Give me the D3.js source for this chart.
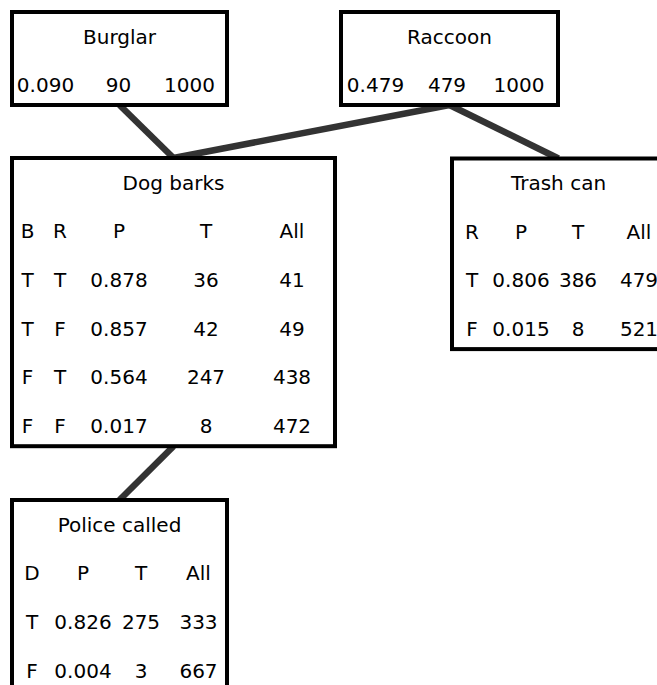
<!DOCTYPE html>
<html>
<head>
<meta charset="utf-8">
<script src="https://cdn.jsdelivr.net/npm/d3@7/dist/d3.min.js"></script>
<style>
  html, body { margin: 0; padding: 0; background: #fff; }
  svg { display: block; }
  text { font-family: "DejaVu Sans", Verdana, sans-serif; font-size: 20px; fill: #000; }
</style>
</head>
<body>
<svg id="chart" width="657" height="685"></svg>
<script>
// ---------------- DATA ----------------
const nodeNames = ["Burglar", "Raccoon", "Dog barks", "Trash can", "Police called"];
const edges = [
  ["Burglar", "Dog barks"],
  ["Raccoon", "Dog barks"],
  ["Raccoon", "Trash can"],
  ["Dog barks", "Police called"]
];

// Burglar (no parents)
const burglarP = [0.090];
const burglarT = [90];
const burglarAll = [1000];

// Raccoon (no parents)
const raccoonP = [0.479];
const raccoonT = [479];
const raccoonAll = [1000];

// Dog barks | Burglar, Raccoon
const dogHeader = ["B", "R", "P", "T", "All"];
const dogB = ["T", "T", "F", "F"];
const dogR = ["T", "F", "T", "F"];
const dogP = [0.878, 0.857, 0.564, 0.017];
const dogT = [36, 42, 247, 8];
const dogAll = [41, 49, 438, 472];

// Trash can | Raccoon
const trashHeader = ["R", "P", "T", "All"];
const trashR = ["T", "F"];
const trashP = [0.806, 0.015];
const trashT = [386, 8];
const trashAll = [479, 521];

// Police called | Dog barks
const policeHeader = ["D", "P", "T", "All"];
const policeD = ["T", "F"];
const policeP = [0.826, 0.004];
const policeT = [275, 3];
const policeAll = [333, 667];

// ---------------- TABLE BUILDING ----------------
const fmtP = d3.format(".3f");
function buildRows(header, cols) {
  const rows = [];
  if (header.length) rows.push(header);
  const n = cols[0].length;
  for (let i = 0; i < n; i++) {
    rows.push(cols.map((c, j) => (j === cols.length - 3 ? fmtP(c[i]) : String(c[i]))));
  }
  return rows;
}
const tables = {
  "Burglar": buildRows([], [burglarP, burglarT, burglarAll]),
  "Raccoon": buildRows([], [raccoonP, raccoonT, raccoonAll]),
  "Dog barks": buildRows(dogHeader, [dogB, dogR, dogP, dogT, dogAll]),
  "Trash can": buildRows(trashHeader, [trashR, trashP, trashT, trashAll]),
  "Police called": buildRows(policeHeader, [policeD, policeP, policeT, policeAll])
};

// ---------------- LAYOUT ----------------
const layout = {
  "Burglar":       { x: 10,  y: 10,  w: 219, cols: [35.5, 108.5, 179.5] },
  "Raccoon":       { x: 339, y: 10,  w: 221, cols: [36.5, 108, 180] },
  "Dog barks":     { x: 10,  y: 156, w: 327, cols: [17.5, 50, 109, 196, 282] },
  "Trash can":     { x: 450, y: 156.5, w: 217, cols: [22, 71, 128, 189] },
  "Police called": { x: 10,  y: 498, w: 219, cols: [22, 73, 131, 188.5] }
};
const titleOffset = 33.5;
const rowY = d3.scaleLinear().domain([0, 1]).range([82, 130.8]);
const bottomPad = 15;
const border = 4;

const nodes = nodeNames.map(name => {
  const L = layout[name];
  const rows = tables[name];
  const h = rowY(rows.length - 1) + bottomPad;
  return { name, rows, x: L.x, y: L.y, w: L.w, h, cols: L.cols };
});
const byName = Object.fromEntries(nodes.map(n => [n.name, n]));

const svg = d3.select("#chart");

// edges (under boxes)
svg.append("g").selectAll("line")
  .data(edges)
  .join("line")
  .attr("x1", d => byName[d[0]].x + byName[d[0]].w / 2)
  .attr("y1", d => byName[d[0]].y + byName[d[0]].h - 2)
  .attr("x2", d => byName[d[1]].x + byName[d[1]].w / 2)
  .attr("y2", d => byName[d[1]].y + 2)
  .attr("stroke", "#333")
  .attr("stroke-width", 6.5)
  .attr("stroke-linecap", "butt");

// nodes
const g = svg.append("g").selectAll("g.node")
  .data(nodes)
  .join("g")
  .attr("class", "node")
  .attr("transform", d => `translate(${d.x},${d.y})`);

g.append("rect")
  .attr("x", border / 2)
  .attr("y", border / 2)
  .attr("width", d => d.w - border)
  .attr("height", d => d.h - border)
  .attr("fill", "#fff")
  .attr("stroke", "#000")
  .attr("stroke-width", border);

g.append("text")
  .attr("x", d => d.w / 2)
  .attr("y", titleOffset)
  .attr("text-anchor", "middle")
  .text(d => d.name);

g.each(function(d) {
  const colX = d3.scaleOrdinal().domain(d3.range(d.cols.length)).range(d.cols);
  const cells = d.rows.flatMap((r, i) => r.map((v, j) => ({ v, i, j })));
  d3.select(this).selectAll("text.cell")
    .data(cells)
    .join("text")
    .attr("class", "cell")
    .attr("x", c => colX(c.j))
    .attr("y", c => rowY(c.i))
    .attr("text-anchor", "middle")
    .text(c => c.v);
});
</script>
</body>
</html>
